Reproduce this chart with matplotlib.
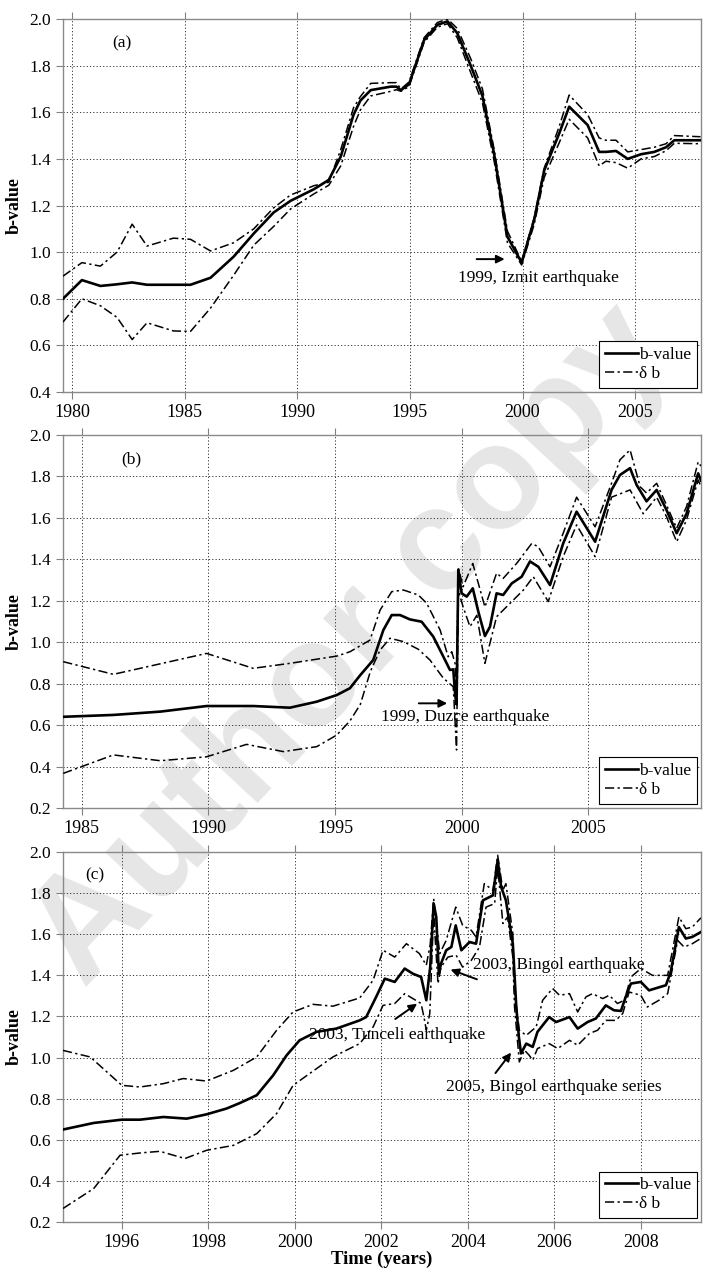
import matplotlib
matplotlib.use('Agg')
import matplotlib.pyplot as plt

plt.rcParams['font.family'] = ['Liberation Serif', 'DejaVu Serif']
plt.rcParams['font.size'] = 12

# ---------------- data : panel (a) ----------------
a_year = [1979.6, 1980.44, 1981.26, 1982.0, 1982.67, 1983.33, 1984.5, 1985.26, 1986.15,
          1987.17, 1988.07, 1988.95, 1989.7, 1990.74, 1991.4, 1991.93, 1992.5, 1992.8,
          1993.26, 1994.15, 1994.4, 1994.6, 1994.96, 1995.63, 1996.22, 1996.67, 1997.1,
          1997.7, 1998.22, 1998.74, 1999.33, 1999.96, 2000.52, 2000.96, 2001.63, 2002.07,
          2002.89, 2003.4, 2003.7, 2004.15, 2004.67, 2005.26, 2005.85, 2006.37, 2006.74, 2007.9]
a_b = [0.80, 0.88, 0.855, 0.862, 0.87, 0.86, 0.86, 0.86, 0.89, 0.98, 1.08, 1.17, 1.22,
       1.27, 1.31, 1.41, 1.59, 1.65, 1.695, 1.71, 1.71, 1.695, 1.72, 1.91, 1.975, 1.99,
       1.94, 1.80, 1.67, 1.42, 1.066, 0.955, 1.14, 1.35, 1.51, 1.624, 1.545, 1.43, 1.43,
       1.434, 1.40, 1.42, 1.43, 1.45, 1.48, 1.48]
a_up = [0.897, 0.955, 0.94, 1.00, 1.12, 1.026, 1.06, 1.055, 1.005, 1.04, 1.10, 1.19, 1.245,
        1.285, 1.30, 1.44, 1.62, 1.667, 1.724, 1.727, 1.727, 1.70, 1.73, 1.92, 1.985, 2.0,
        1.96, 1.83, 1.70, 1.44, 1.09, 0.96, 1.15, 1.36, 1.54, 1.674, 1.59, 1.49, 1.48,
        1.48, 1.43, 1.44, 1.45, 1.465, 1.50, 1.495]
a_lo = [0.70, 0.80, 0.77, 0.72, 0.625, 0.697, 0.662, 0.66, 0.76, 0.90, 1.03, 1.11, 1.185,
        1.25, 1.287, 1.37, 1.54, 1.61, 1.67, 1.69, 1.697, 1.69, 1.71, 1.90, 1.965, 1.98,
        1.92, 1.77, 1.64, 1.39, 1.04, 0.945, 1.12, 1.32, 1.47, 1.57, 1.49, 1.37, 1.39,
        1.384, 1.36, 1.40, 1.41, 1.435, 1.467, 1.465]

# ---------------- data : panel (b) ----------------
b_year = [1984.27, 1986.25, 1988.1, 1989.93, 1991.77, 1993.22, 1994.28, 1995.07, 1995.59,
          1995.99, 1996.51, 1996.91, 1997.24, 1997.57, 1997.96, 1998.42, 1998.88, 1999.28,
          1999.54, 1999.67, 1999.75, 1999.8, 1999.87, 2000.0, 2000.2, 2000.44, 2000.66,
          2000.92, 2001.12, 2001.38, 2001.64, 2001.98, 2002.37, 2002.7, 2003.03, 2003.49,
          2004.01, 2004.54, 2005.27, 2005.92, 2006.25, 2006.65, 2006.91, 2007.3, 2007.7,
          2008.09, 2008.49, 2008.88, 2009.34, 2009.45]
b_b = [0.64, 0.649, 0.665, 0.692, 0.692, 0.684, 0.713, 0.745, 0.778, 0.84, 0.914, 1.059,
       1.131, 1.131, 1.11, 1.099, 1.027, 0.93, 0.866, 0.869, 0.74, 0.70, 1.35, 1.236, 1.22,
       1.26, 1.147, 1.03, 1.075, 1.236, 1.228, 1.284, 1.316, 1.39, 1.364, 1.276, 1.477,
       1.63, 1.485, 1.735, 1.807, 1.84, 1.759, 1.68, 1.735, 1.638, 1.526, 1.62, 1.815, 1.78]
b_up_year = [1984.27, 1986.25, 1989.93, 1991.77, 1993.22, 1995.07, 1995.59, 1996.38, 1996.78,
             1997.24, 1997.7, 1998.29, 1998.62, 1999.15, 1999.47, 1999.61, 1999.74, 1999.8,
             1999.87, 2000.06, 2000.44, 2000.92, 2001.38, 2001.64, 2002.17, 2002.77, 2003.03,
             2003.49, 2004.01, 2004.54, 2005.27, 2005.92, 2006.25, 2006.65, 2007.05, 2007.3,
             2007.7, 2008.09, 2008.49, 2008.88, 2009.34, 2009.45]
b_up = [0.906, 0.845, 0.946, 0.874, 0.898, 0.933, 0.954, 1.01, 1.155, 1.244, 1.252, 1.228,
        1.188, 1.059, 0.93, 0.954, 0.898, 0.78, 1.357, 1.268, 1.38, 1.17, 1.333, 1.308,
        1.38, 1.477, 1.46, 1.364, 1.526, 1.70, 1.557, 1.767, 1.88, 1.928, 1.75, 1.72,
        1.767, 1.662, 1.55, 1.654, 1.87, 1.85]
b_lo_year = [1984.27, 1986.25, 1988.1, 1989.93, 1991.51, 1992.96, 1994.28, 1995.07, 1995.59,
             1996.0, 1996.4, 1996.78, 1997.17, 1997.7, 1998.29, 1998.75, 1999.28, 1999.67,
             1999.8, 1999.87, 2000.06, 2000.33, 2000.6, 2000.92, 2001.38, 2001.98, 2002.44,
             2002.83, 2003.42, 2004.01, 2004.54, 2005.27, 2005.92, 2006.65, 2007.17, 2007.7,
             2008.09, 2008.49, 2008.88, 2009.34, 2009.45]
b_lo = [0.367, 0.456, 0.428, 0.447, 0.507, 0.472, 0.496, 0.552, 0.62, 0.70, 0.86, 0.962,
        1.019, 1.003, 0.966, 0.914, 0.826, 0.785, 0.48, 1.25, 1.17, 1.075, 1.13, 0.898,
        1.123, 1.196, 1.252, 1.316, 1.196, 1.413, 1.566, 1.413, 1.70, 1.735, 1.62, 1.70,
        1.606, 1.485, 1.59, 1.783, 1.75]

# ---------------- data : panel (c) ----------------
c_year = [1994.64, 1995.35, 1996.0, 1996.42, 1996.96, 1997.5, 1997.96, 1998.42, 1998.73,
          1999.12, 1999.5, 1999.81, 2000.11, 2000.5, 2000.96, 2001.5, 2001.65, 2001.88,
          2002.08, 2002.31, 2002.54, 2002.73, 2002.92, 2003.04, 2003.13, 2003.21, 2003.27,
          2003.33, 2003.38, 2003.5, 2003.62, 2003.72, 2003.85, 2004.04, 2004.19, 2004.35,
          2004.58, 2004.69, 2004.77, 2004.88, 2005.04, 2005.12, 2005.18, 2005.23, 2005.35,
          2005.5, 2005.61, 2005.88, 2006.04, 2006.35, 2006.54, 2006.77, 2006.96, 2007.19,
          2007.38, 2007.54, 2007.65, 2007.77, 2008.0, 2008.19, 2008.58, 2008.69, 2008.88,
          2009.04, 2009.19, 2009.39]
c_b = [0.65, 0.682, 0.698, 0.698, 0.711, 0.703, 0.724, 0.752, 0.779, 0.817, 0.914, 1.011,
       1.084, 1.125, 1.141, 1.181, 1.197, 1.295, 1.384, 1.368, 1.433, 1.408, 1.392, 1.279,
       1.44, 1.749, 1.684, 1.408, 1.457, 1.522, 1.538, 1.643, 1.522, 1.562, 1.554, 1.765,
       1.789, 1.96, 1.83, 1.765, 1.554, 1.246, 1.10, 1.02, 1.068, 1.052, 1.125, 1.197,
       1.173, 1.197, 1.141, 1.173, 1.19, 1.254, 1.23, 1.227, 1.295, 1.36, 1.368, 1.327,
       1.352, 1.416, 1.635, 1.579, 1.587, 1.611]
c_up_year = [1994.64, 1995.27, 1996.0, 1996.42, 1996.96, 1997.42, 1997.96, 1998.58, 1999.12,
             1999.58, 1999.96, 2000.42, 2000.88, 2001.5, 2001.81, 2002.04, 2002.31, 2002.58,
             2002.88, 2003.04, 2003.13, 2003.21, 2003.35, 2003.5, 2003.72, 2003.88, 2004.08,
             2004.19, 2004.38, 2004.58, 2004.69, 2004.81, 2004.88, 2005.04, 2005.08, 2005.19,
             2005.35, 2005.58, 2005.73, 2005.96, 2006.12, 2006.35, 2006.54, 2006.73, 2006.88,
             2007.12, 2007.27, 2007.46, 2007.62, 2007.77, 2008.0, 2008.27, 2008.62, 2008.88,
             2009.04, 2009.19, 2009.39]
c_up = [1.035, 1.003, 0.865, 0.857, 0.873, 0.898, 0.886, 0.938, 1.003, 1.133, 1.222, 1.259,
        1.25, 1.29, 1.376, 1.522, 1.489, 1.554, 1.506, 1.449, 1.55, 1.773, 1.506, 1.57,
        1.732, 1.643, 1.619, 1.587, 1.846, 1.814, 1.984, 1.814, 1.846, 1.603, 1.327, 1.133,
        1.108, 1.149, 1.279, 1.336, 1.303, 1.311, 1.222, 1.295, 1.311, 1.287, 1.303, 1.263,
        1.279, 1.392, 1.433, 1.4, 1.4, 1.684, 1.627, 1.635, 1.68]
c_lo_year = [1994.64, 1995.35, 1995.96, 1996.42, 1996.88, 1997.46, 1997.96, 1998.58, 1999.12,
             1999.58, 1999.96, 2000.5, 2000.88, 2001.5, 2001.81, 2002.04, 2002.31, 2002.54,
             2002.73, 2002.92, 2003.0, 2003.04, 2003.12, 2003.21, 2003.31, 2003.38, 2003.54,
             2003.73, 2003.88, 2004.08, 2004.27, 2004.42, 2004.62, 2004.69, 2004.81, 2004.92,
             2005.04, 2005.08, 2005.19, 2005.31, 2005.42, 2005.5, 2005.61, 2005.88, 2006.08,
             2006.35, 2006.54, 2006.81, 2007.0, 2007.19, 2007.42, 2007.58, 2007.73, 2008.0,
             2008.15, 2008.42, 2008.62, 2008.85, 2009.0, 2009.19, 2009.39]
c_lo = [0.266, 0.363, 0.525, 0.536, 0.544, 0.509, 0.549, 0.573, 0.63, 0.728, 0.865, 0.946,
        1.003, 1.068, 1.149, 1.254, 1.263, 1.311, 1.287, 1.263, 1.181, 1.133, 1.214, 1.70,
        1.36, 1.44, 1.489, 1.498, 1.44, 1.473, 1.538, 1.732, 1.749, 1.927, 1.652, 1.684,
        1.489, 1.246, 0.979, 1.036, 1.011, 0.987, 1.044, 1.068, 1.044, 1.084, 1.06, 1.117,
        1.133, 1.181, 1.181, 1.214, 1.319, 1.303, 1.246, 1.279, 1.311, 1.57, 1.538, 1.554, 1.58]

# axis settings per panel
a_ticks = [1980, 1985, 1990, 1995, 2000, 2005]
b_ticks = [1985, 1990, 1995, 2000, 2005]
c_ticks = [1996, 1998, 2000, 2002, 2004, 2006, 2008]

DASHDOT = (0, (6, 2.2, 1.5, 2.2))
FS = 12.5

fig = plt.figure(figsize=(7.03, 12.69), dpi=100)

# light watermark, kept under the (transparent) axes
fig.text(0.50, 0.49, 'Author copy', family='Liberation Sans', fontweight='bold',
         fontsize=106, color='#e6e6e6', rotation=47, ha='center', va='center', zorder=-5)


def panel(rect, ylo, xlim, xticks, yr_b, b, yr_up, up, yr_lo, lo, tag, tagpos):
    ax = fig.add_axes(rect)
    ax.set_facecolor('none')
    ax.plot(yr_b, b, color='k', lw=1.9, zorder=4, label='b-value')
    ax.plot(yr_up, up, color='k', lw=1.1, linestyle=DASHDOT, zorder=3, label='\u03b4 b')
    ax.plot(yr_lo, lo, color='k', lw=1.1, linestyle=DASHDOT, zorder=3)
    ax.set_xlim(*xlim)
    ax.set_ylim(ylo, 2.0)
    ax.set_xticks(xticks)
    ax.set_yticks([round(ylo + 0.2 * i, 1) for i in range(int(round((2.0 - ylo) / 0.2)) + 1)])
    ax.yaxis.set_major_formatter(matplotlib.ticker.FormatStrFormatter('%.1f'))
    ax.grid(True, color='#333333', linestyle=(0, (1.2, 2.2)), linewidth=0.7)
    ax.tick_params(direction='out', length=5, color='#808080', top=True, labelsize=FS)
    ax.tick_params(axis='x', labelsize=13)
    for s in ax.spines.values():
        s.set_color('#8a8a8a')
        s.set_linewidth(1.0)
    ax.set_ylabel('b-value', fontweight='bold', fontsize=13, labelpad=5)
    ax.text(tagpos[0], tagpos[1], tag, fontsize=FS, ha='center', va='center')
    leg = ax.legend(loc='lower right', fancybox=False, edgecolor='k', framealpha=1,
                    handlelength=1.9, handletextpad=0.1, borderpad=0.3, labelspacing=0.2,
                    borderaxespad=0.25, fontsize=FS)
    leg.get_frame().set_linewidth(0.8)
    leg.set_zorder(10)
    return ax


ax1 = panel([0.0896, 0.6911, 0.9075, 0.2939], 0.4, (1979.6, 2007.92), a_ticks,
            a_year, a_b, a_year, a_up, a_year, a_lo, '(a)', (1982.22, 1.895))
ax1.annotate('', xy=(1999.33, 0.97), xytext=(1997.84, 0.97),
             arrowprops=dict(arrowstyle='-|>', color='k', lw=1.4, mutation_scale=12))
ax1.text(1997.14, 0.89, '1999, Izmit earthquake', fontsize=FS, va='center', ha='left')

ax2 = panel([0.0896, 0.3633, 0.9075, 0.2939], 0.2, (1984.26, 2009.45), b_ticks,
            b_year, b_b, b_up_year, b_up, b_lo_year, b_lo, '(b)', (1986.97, 1.88))
ax2.annotate('', xy=(1999.54, 0.705), xytext=(1998.2, 0.705),
             arrowprops=dict(arrowstyle='-|>', color='k', lw=1.4, mutation_scale=12))
ax2.text(1996.82, 0.64, '1999, Duzce earthquake', fontsize=FS, va='center', ha='left')

ax3 = panel([0.0896, 0.0370, 0.9075, 0.2916], 0.2, (1994.64, 2009.39), c_ticks,
            c_year, c_b, c_up_year, c_up, c_lo_year, c_lo, '(c)', (1995.37, 1.887))
ax3.annotate('', xy=(2002.88, 1.27), xytext=(2002.27, 1.18),
             arrowprops=dict(arrowstyle='-|>', color='k', lw=1.4, mutation_scale=12))
ax3.text(2000.33, 1.112, '2003, Tunceli earthquake', fontsize=FS, va='center', ha='left')
ax3.annotate('', xy=(2003.54, 1.433), xytext=(2004.27, 1.376),
             arrowprops=dict(arrowstyle='-|>', color='k', lw=1.4, mutation_scale=12))
ax3.text(2004.11, 1.449, '2003, Bingol earthquake', fontsize=FS, va='center', ha='left')
ax3.annotate('', xy=(2005.04, 1.035), xytext=(2004.6, 0.914),
             arrowprops=dict(arrowstyle='-|>', color='k', lw=1.4, mutation_scale=12))
ax3.text(2003.5, 0.857, '2005, Bingol earthquake series', fontsize=FS, va='center', ha='left')
ax3.set_xlabel('Time (years)', fontweight='bold', fontsize=13.5, labelpad=0)

fig.savefig('out.png', dpi=100)
